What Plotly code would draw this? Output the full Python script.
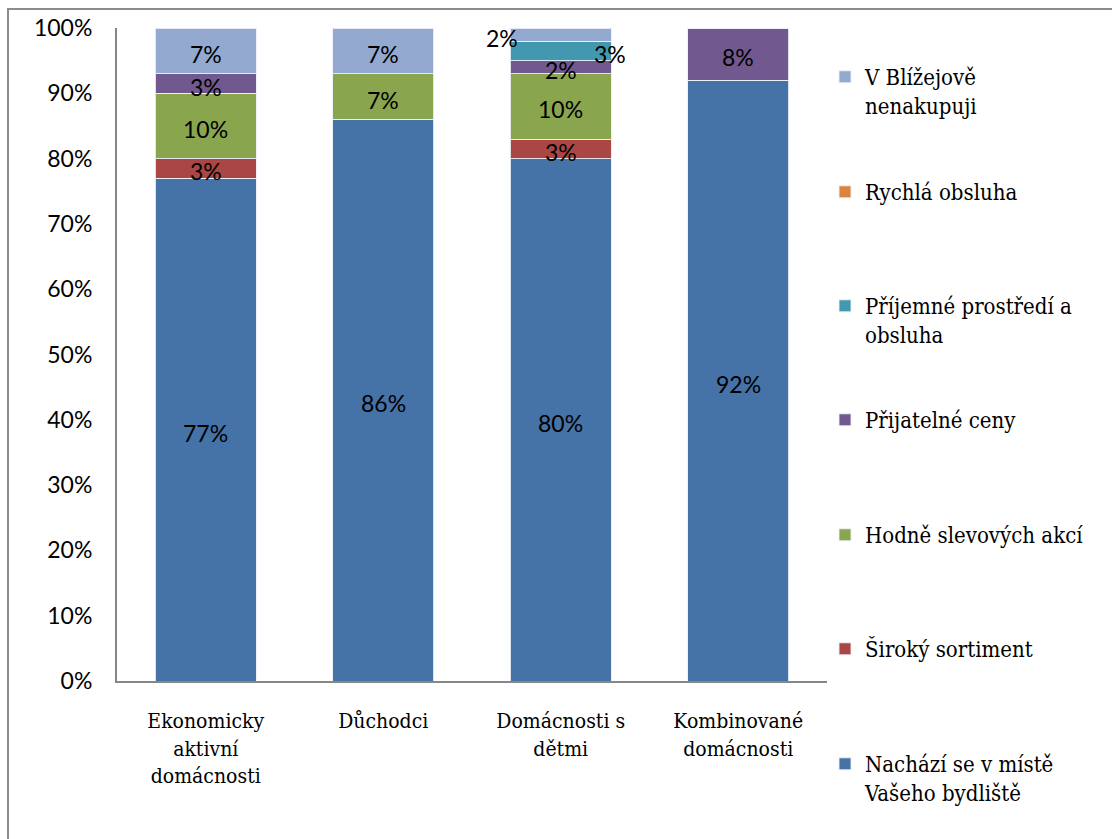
import plotly.graph_objects as go

categories = ["Ekonomicky<br>aktivní<br>domácnosti", "Důchodci", "Domácnosti s<br>dětmi", "Kombinované<br>domácnosti"]

series_names = [
    "Nachází se v místě<br>Vašeho bydliště",
    "Široký sortiment",
    "Hodně slevových akcí",
    "Přijatelné ceny",
    "Příjemné prostředí a<br>obsluha",
    "Rychlá obsluha",
    "V Blížejově<br>nenakupuji",
]
nachazi = [77, 86, 80, 92]
siroky = [3, 0, 3, 0]
slevy = [10, 7, 10, 0]
ceny = [3, 0, 2, 8]
prostredi = [0, 0, 3, 0]
rychla = [0, 0, 0, 0]
nenakupuji = [7, 7, 2, 0]
series_values = [nachazi, siroky, slevy, ceny, prostredi, rychla, nenakupuji]
colors = ["#4572A7", "#AA4643", "#89A54E", "#71588F", "#4198AF", "#DB843D", "#93A9CF"]
y_ticks = [0, 10, 20, 30, 40, 50, 60, 70, 80, 90, 100]
y_ticklabels = [f"{t}%" for t in y_ticks]

SERIF = "DejaVu Serif Condensed, DejaVu Serif, serif"
SANS = "Lato"

# pixel layout helpers
W, H = 1112, 839
L, R, T, B = 117, 827, 28, 681
def px_x(px):
    return (px - L) / (R - L)
def px_y(py):
    return (B - py) / (B - T)

# legend first-line centres (pixels), top to bottom in legend
legend_centres = [764, 649, 535, 420, 306, 192, 77]

fig = go.Figure()
label_offsets = {(6, 2): -59, (4, 2): 49}
annotations = []
for i, (name, vals, col) in enumerate(zip(series_names, series_values, colors)):
    lg = "legend" if i == 0 else f"legend{i+1}"
    fig.add_trace(go.Bar(
        x=categories, y=vals, name=name, marker_color=col,
        marker_line=dict(color="rgba(235,240,248,0.9)", width=1),
        legend=lg, width=0.57,
    ))
    for j, v in enumerate(vals):
        if v > 0:
            base = sum(series_values[k][j] for k in range(i))
            annotations.append(dict(
                x=categories[j], y=base + v / 2, text=f"{v}%", showarrow=False,
                xshift=label_offsets.get((i, j), 0), yshift=-3,
                font=dict(family=SANS, size=23, color="#000000"),
            ))

legends = {}
for i in range(len(series_names)):
    key = "legend" if i == 0 else f"legend{i+1}"
    legends[key] = dict(
        x=px_x(825), y=px_y(legend_centres[i] - 21), xanchor="left", yanchor="top",
        bgcolor="rgba(0,0,0,0)", borderwidth=0, valign="top",
        font=dict(family=SERIF, size=22, color="#000000"),
        itemclick=False,
    )

fig.update_layout(
    width=W, height=H,
    margin=dict(l=L, r=W - R, t=T, b=H - B),
    barmode="stack",
    plot_bgcolor="white", paper_bgcolor="white",
    showlegend=True,
    annotations=annotations,
    shapes=[dict(type="rect", xref="paper", yref="paper",
                 x0=px_x(8), x1=px_x(1130), y0=px_y(860), y1=px_y(9),
                 line=dict(color="#8C8C8C", width=2), fillcolor="rgba(0,0,0,0)", layer="below")],
    **legends,
)
fig.update_xaxes(
    showline=True, linecolor="#868686", linewidth=2, showgrid=False, ticks="",
    tickfont=dict(family=SERIF, size=21, color="#000000"),
    ticklabelstandoff=20,
)
fig.update_yaxes(
    range=[0, 100], showline=True, linecolor="#868686", linewidth=2, showgrid=False,
    ticks="", tickvals=y_ticks, ticktext=y_ticklabels, zeroline=False,
    tickfont=dict(family=SANS, size=23, color="#000000"),
    ticklabelstandoff=18,
)
fig.write_html("out.html")
